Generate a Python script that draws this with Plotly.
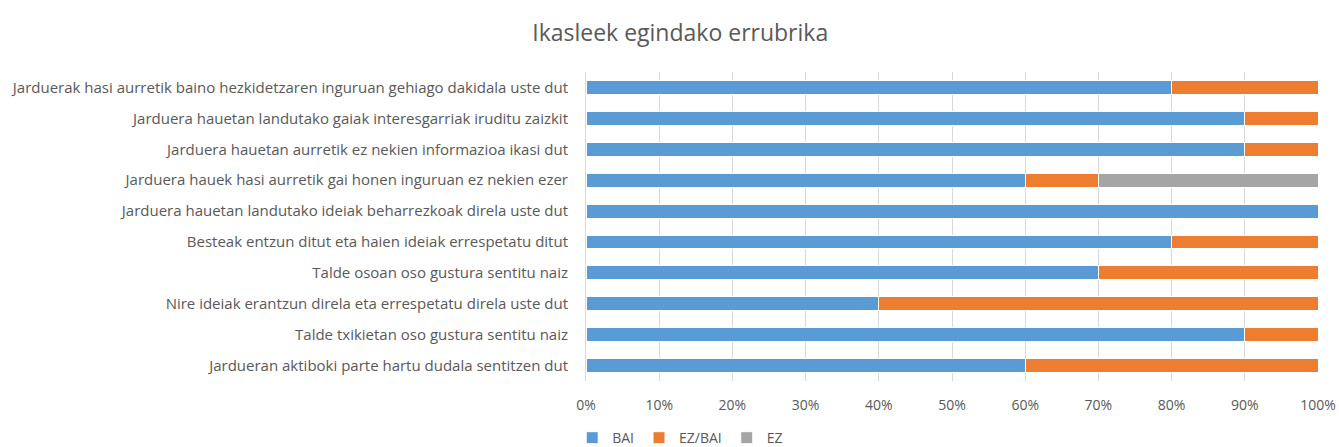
import plotly.graph_objects as go

categories = [
    "Jarduerak hasi aurretik baino hezkidetzaren inguruan gehiago dakidala uste dut",
    "Jarduera hauetan landutako gaiak interesgarriak iruditu zaizkit",
    "Jarduera hauetan aurretik ez nekien informazioa ikasi dut",
    "Jarduera hauek hasi aurretik gai honen inguruan ez nekien ezer",
    "Jarduera hauetan landutako ideiak beharrezkoak direla uste dut",
    "Besteak entzun ditut eta haien ideiak errespetatu ditut",
    "Talde osoan oso gustura sentitu naiz",
    "Nire ideiak erantzun direla eta errespetatu direla uste dut",
    "Talde txikietan oso gustura sentitu naiz",
    "Jardueran aktiboki parte hartu dudala sentitzen dut",
]
bai = [0.8, 0.9, 0.9, 0.6, 1.0, 0.8, 0.7, 0.4, 0.9, 0.6]
ezbai = [0.2, 0.1, 0.1, 0.1, 0.0, 0.2, 0.3, 0.6, 0.1, 0.4]
ez = [0.0, 0.0, 0.0, 0.3, 0.0, 0.0, 0.0, 0.0, 0.0, 0.0]
tick_vals = [i / 10 for i in range(11)]
tick_text = [f"{i*10}%" for i in range(11)]

series = [("BAI", bai, "#5b9bd5"), ("EZ/BAI", ezbai, "#ed7d31"), ("EZ", ez, "#a5a5a5")]

fig = go.Figure()
for name, vals, color in series:
    fig.add_trace(go.Bar(
        y=categories, x=vals, name=name, orientation="h",
        marker=dict(color=color, line=dict(color="white", width=1)),
        hoverinfo="x+y+name",
    ))

fig.update_layout(
    barmode="stack",
    bargap=0.55,
    width=1339, height=447,
    paper_bgcolor="white", plot_bgcolor="white",
    margin=dict(l=586, r=21, t=72, b=66, autoexpand=False),
    font=dict(family="Open Sans, Calibri, sans-serif", size=14, color="#595959"),
    title=dict(text="Ikasleek egindako errubrika", x=0.508, xref="container", xanchor="center",
               y=0.926, yref="container", yanchor="middle",
               font=dict(size=23, color="#595959")),
    xaxis=dict(range=[0, 1], tickvals=tick_vals, ticktext=tick_text, automargin=False,
               showgrid=True, gridcolor="#d9d9d9", gridwidth=1, zeroline=False,
               ticks="", ticklabelstandoff=14, tickfont=dict(size=14, color="#595959")),
    yaxis=dict(autorange="reversed", showline=True, linecolor="#d9d9d9", ticks="",
               automargin=False, ticklabelstandoff=14, tickfont=dict(size=15, color="#595959")),
    legend=dict(orientation="h", x=0.508, xanchor="center", xref="container",
                y=0.02, yref="container", yanchor="middle", font=dict(size=14, color="#595959"),
                traceorder="normal", itemwidth=30),
    bargroupgap=0,
)
fig.write_html("out.html", config={"displayModeBar": False},
               post_script="document.body.style.margin='0px';document.body.style.overflow='hidden';")
